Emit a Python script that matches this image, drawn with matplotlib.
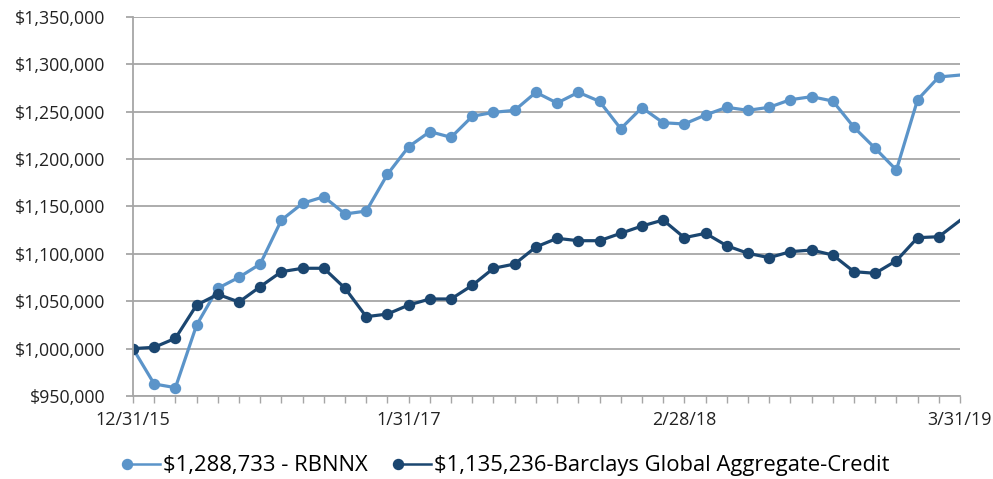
import matplotlib.pyplot as plt
import matplotlib.ticker as mticker
from matplotlib.legend_handler import HandlerLine2D
import numpy as np

plt.rcParams['font.family'] = ['Open Sans', 'DejaVu Sans']

# month-end values, 12/31/15 .. 3/31/19
rbnnx = [1000000, 962700, 958800, 1024900, 1063700, 1075300, 1089300, 1135700,
         1153400, 1160300, 1142100, 1145200, 1184000, 1213100, 1229000, 1223000,
         1245200, 1249400, 1251500, 1270500, 1259200, 1270500, 1261000, 1232100,
         1254300, 1238400, 1237100, 1246600, 1254700, 1251500, 1254700, 1262700,
         1265900, 1261300, 1233600, 1211400, 1188500, 1262700, 1286700, 1288733]
barclays = [1000000, 1001400, 1010900, 1046000, 1057300, 1049200, 1065400, 1081200,
            1084800, 1084800, 1063700, 1033700, 1036500, 1046000, 1052400, 1052400,
            1066800, 1084800, 1089300, 1107300, 1116400, 1113900, 1113900, 1121700,
            1129400, 1135700, 1117100, 1121700, 1108600, 1100600, 1096000, 1102300,
            1104100, 1098800, 1081200, 1079500, 1092800, 1117100, 1118100, 1135236]
tick_pos = [0, 13, 26, 39]
tick_labels = ["12/31/15", "1/31/17", "2/28/18", "3/31/19"]

light = "#5b94c9"
dark = "#1b4670"
grid_c = "#a6a6a6"


class LeftMarker(HandlerLine2D):
    # marker at the left end of the legend line, like the original
    def create_artists(self, legend, orig_handle, xdescent, ydescent, width, height, fontsize, trans):
        arts = super().create_artists(legend, orig_handle, xdescent, ydescent, width, height, fontsize, trans)
        for a in arts:
            a.set_markevery([0])
            a.set_linewidth(1.8)
        return arts


x = np.arange(len(rbnnx))

fig = plt.figure(figsize=(9.93, 4.79), dpi=100)
ax = fig.add_axes([133/993, 1-396/479, (960-133)/993, (396-17)/479])

mk = list(range(len(x) - 1))
l1, = ax.plot(x, rbnnx, color=light, lw=2.3, marker='o', ms=7.2, markevery=mk,
              label='$1,288,733 - RBNNX')
l2, = ax.plot(x, barclays, color=dark, lw=2.3, marker='o', ms=7.2, markevery=mk,
              label='$1,135,236-Barclays Global Aggregate-Credit')

ax.set_xlim(0, len(x) - 1)
ax.set_ylim(950000, 1350000)
ax.yaxis.set_major_locator(mticker.MultipleLocator(50000))
ax.yaxis.set_major_formatter(mticker.FuncFormatter(lambda v, p: "${:,.0f}".format(v)))
ax.set_xticks(tick_pos)
ax.set_xticklabels(tick_labels)
ax.set_xticks(x, minor=True)

ax.grid(axis='y', color=grid_c, lw=1.3)
ax.set_axisbelow(True)
for s in ['top', 'right']:
    ax.spines[s].set_visible(False)
for s in ['left', 'bottom']:
    ax.spines[s].set_color(grid_c)
    ax.spines[s].set_linewidth(1.3)

ax.tick_params(axis='y', length=5, width=1.3, color=grid_c, labelsize=12.8,
               labelcolor='#222222', pad=15)
ax.tick_params(axis='x', which='both', length=5, width=1, color=grid_c,
               labelsize=13, labelcolor='#222222', pad=6)

fig.legend([l1, l2], [l1.get_label(), l2.get_label()], loc='center',
           bbox_to_anchor=(508/993, 1-466/479), ncol=2, frameon=False, fontsize=15.8,
           handlelength=1.5, handletextpad=0.12, columnspacing=1.4, numpoints=1,
           handler_map={l1: LeftMarker(), l2: LeftMarker()})

fig.savefig("out.png", dpi=100)
